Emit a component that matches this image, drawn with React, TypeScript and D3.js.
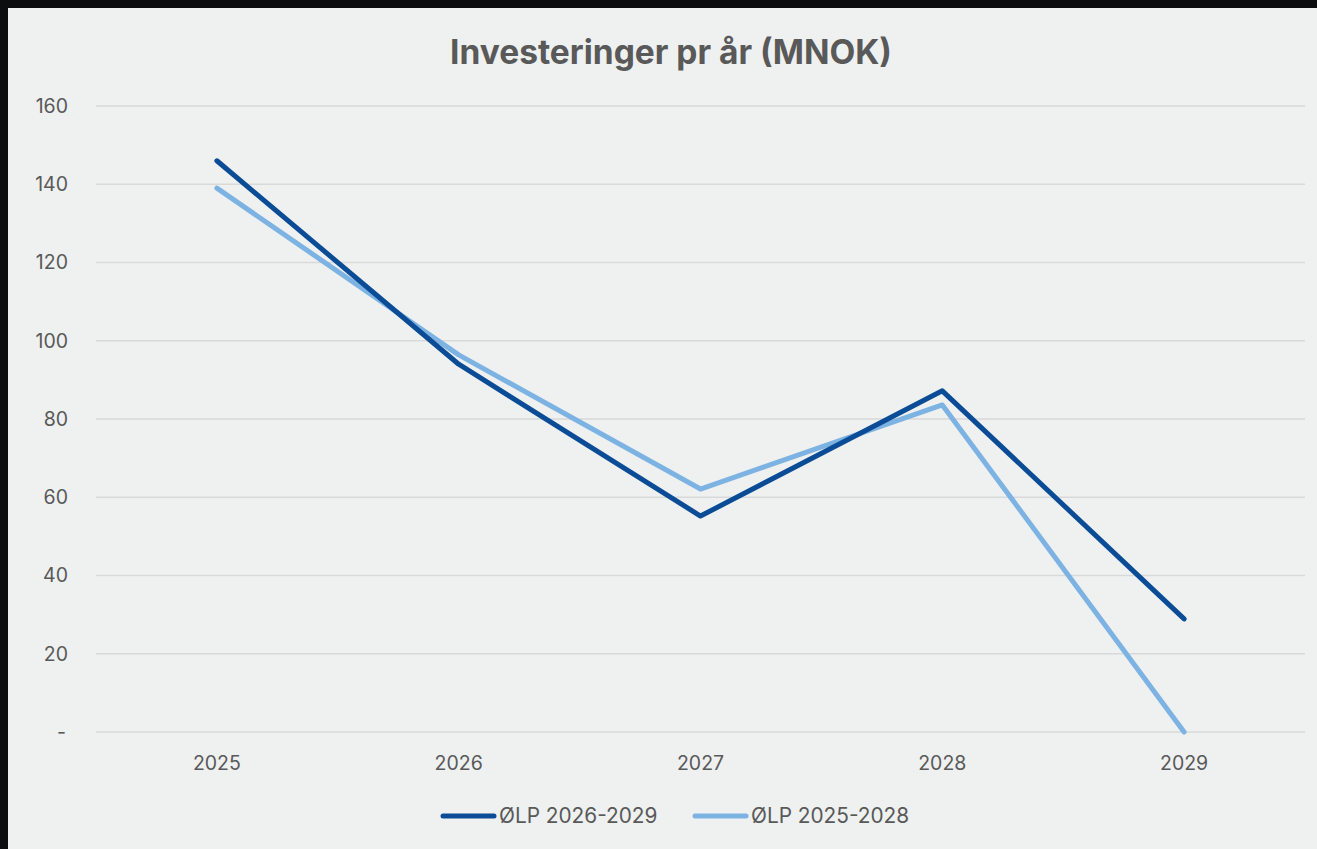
import React, { useEffect, useRef } from 'react';
import * as d3 from 'd3';

const years = ['2025', '2026', '2027', '2028', '2029'];
const olp2026 = [146, 94, 55.2, 87.2, 28.9];
const olp2025 = [139, 96.4, 62.1, 83.6, 0];
const yTicks = [0, 20, 40, 60, 80, 100, 120, 140, 160];
const seriesNames = ['ØLP 2026-2029', 'ØLP 2025-2028'];

const W = 1317;
const H = 849;
const FONT = 'Inter, "Open Sans", sans-serif';
const TEXT = '#595959';

const App = () => {
  const ref = useRef<SVGSVGElement | null>(null);

  useEffect(() => {
    const svg = d3.select(ref.current);
    svg.selectAll('*').remove();

    // dark slide border + chart panel
    svg.append('rect').attr('width', W).attr('height', H).attr('fill', '#0c0d0e');
    svg.append('rect').attr('x', 8).attr('y', 8).attr('width', W - 8).attr('height', H - 8).attr('fill', '#eff0f0');

    const margin = { left: 96, right: 12, top: 106, bottom: 117 };
    const x = d3.scalePoint()
      .domain(years)
      .range([margin.left, W - margin.right])
      .padding(0.5);
    const y = d3.scaleLinear().domain([0, 160]).range([H - margin.bottom, margin.top]);

    // gridlines
    svg.append('g')
      .selectAll('line')
      .data(yTicks)
      .join('line')
      .attr('x1', margin.left)
      .attr('x2', W - margin.right)
      .attr('y1', d => y(d))
      .attr('y2', d => y(d))
      .attr('stroke', '#d9d9d9')
      .attr('stroke-width', 1.5);

    // y labels
    svg.append('g')
      .selectAll('text')
      .data(yTicks)
      .join('text')
      .attr('x', d => (d === 0 ? 66 : 68))
      .attr('y', d => y(d))
      .attr('dy', '0.35em')
      .attr('text-anchor', 'end')
      .style('font-family', FONT)
      .style('font-size', '19.5px')
      .attr('fill', TEXT)
      .text(d => (d === 0 ? '-' : String(d)));

    // x labels
    svg.append('g')
      .selectAll('text')
      .data(years)
      .join('text')
      .attr('x', d => x(d)!)
      .attr('y', 770)
      .attr('text-anchor', 'middle')
      .style('font-family', FONT)
      .style('font-size', '19.5px')
      .attr('fill', TEXT)
      .text(d => d);

    // title
    svg.append('text')
      .attr('x', 671)
      .attr('y', 64)
      .attr('text-anchor', 'middle')
      .style('font-family', FONT)
      .style('font-size', '33.5px')
      .style('font-weight', 'bold')
      .attr('fill', TEXT)
      .text('Investeringer pr år (MNOK)');

    const line = d3.line<number>()
      .x((d, i) => x(years[i])!)
      .y(d => y(d));

    const series = [
      { values: olp2025, color: '#7db3e3' },
      { values: olp2026, color: '#0b4c97' },
    ];
    series.forEach(s => {
      svg.append('path')
        .datum(s.values)
        .attr('fill', 'none')
        .attr('stroke', s.color)
        .attr('stroke-width', 5)
        .attr('stroke-linecap', 'round')
        .attr('stroke-linejoin', 'round')
        .attr('d', line);
    });

    // legend
    const legendItems = [
      { name: seriesNames[0], color: '#0b4c97', x: 441 },
      { name: seriesNames[1], color: '#7db3e3', x: 693 },
    ];
    legendItems.forEach(l => {
      svg.append('line')
        .attr('x1', l.x + 2)
        .attr('x2', l.x + 53)
        .attr('y1', 816)
        .attr('y2', 816)
        .attr('stroke', l.color)
        .attr('stroke-width', 5)
        .attr('stroke-linecap', 'round');
      svg.append('text')
        .attr('x', l.x + 58)
        .attr('y', 816)
        .attr('dy', '0.35em')
        .style('font-family', FONT)
        .style('font-size', '20.8px')
        .attr('fill', TEXT)
        .text(l.name);
    });
  }, []);

  return (
    <div style={{ position: 'absolute', left: 0, top: 0 }}>
      <svg ref={ref} width={W} height={H} style={{ display: 'block' }} />
    </div>
  );
};

export default App;
